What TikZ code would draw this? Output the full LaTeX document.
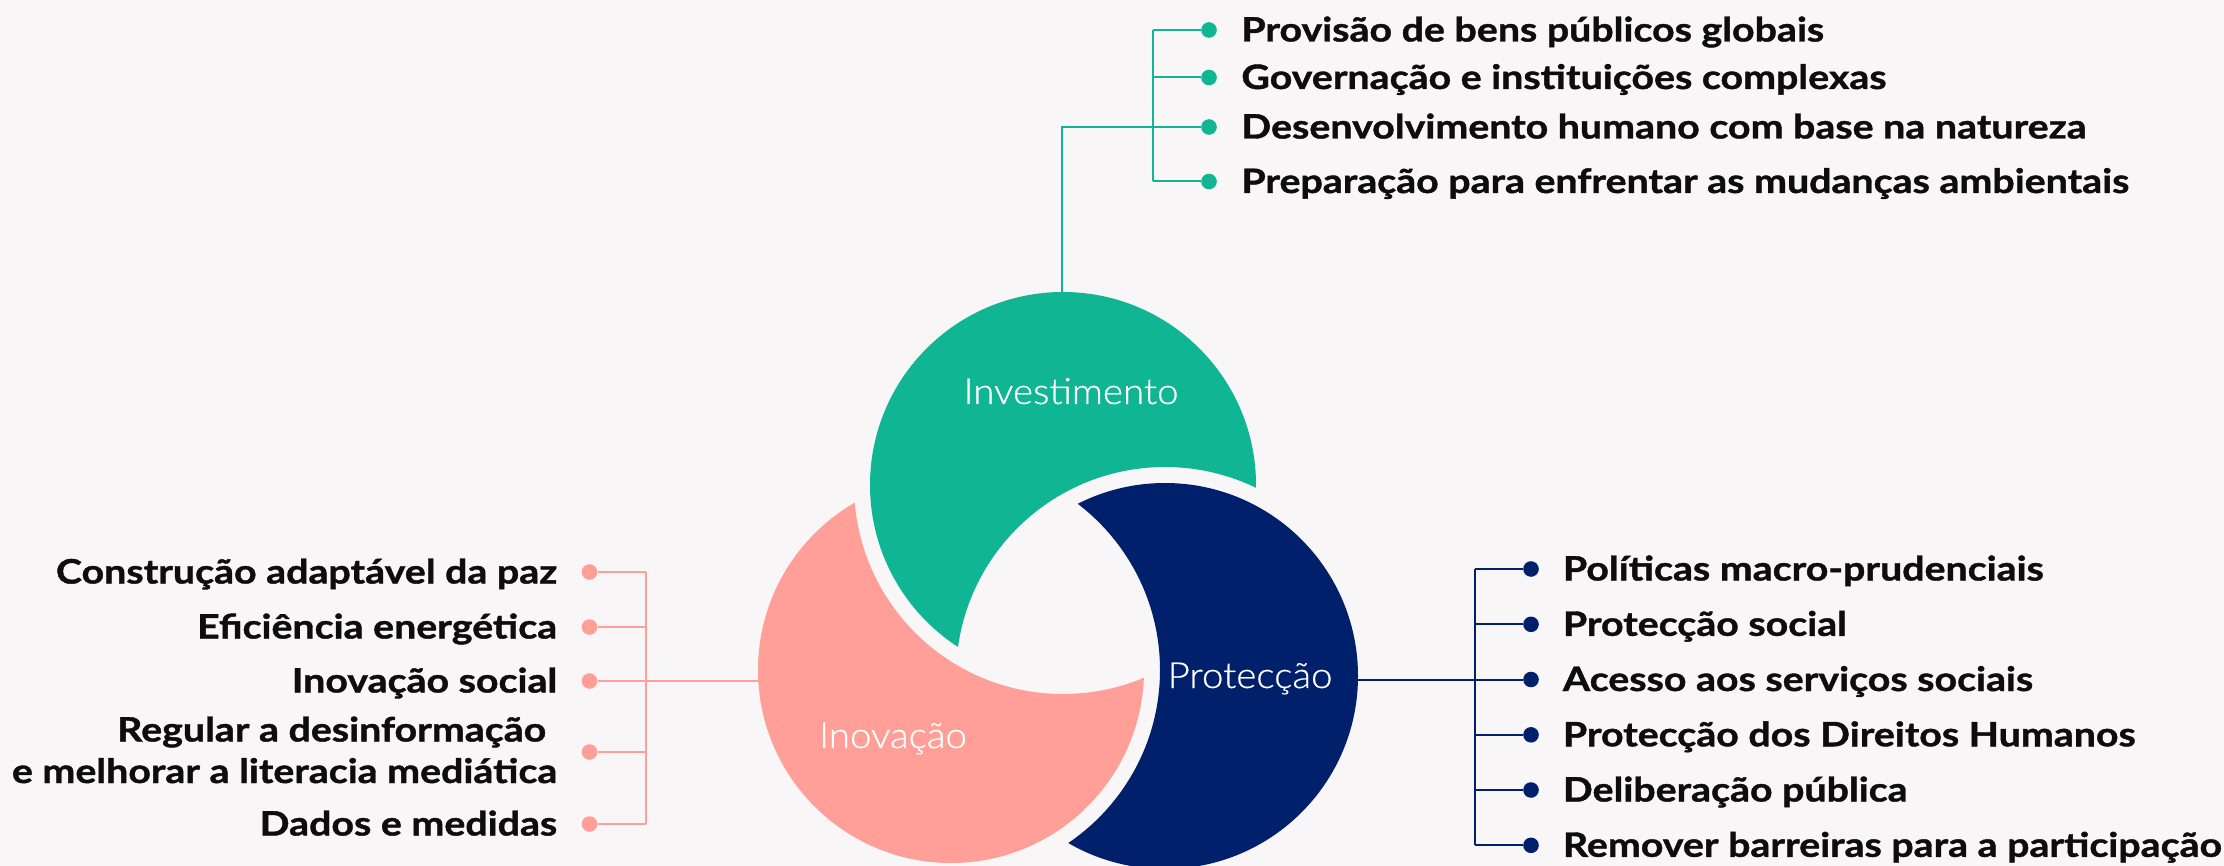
\documentclass[tikz,border=0pt]{standalone}
\usepackage{fontspec}
\newfontfamily\listfont{Lato}[FakeStretch=1.17, BoldFeatures={FakeBold=1.2}]
\newfontfamily\labelfont{Lato}[UprightFont={* Light}, FakeStretch=1.07, FakeBold=0.5]
\definecolor{bg}{HTML}{F8F6F7}
\definecolor{cgreen}{HTML}{10B593}
\definecolor{cnavy}{HTML}{00206C}
\definecolor{cpink}{HTML}{FF9F97}
\definecolor{ink}{HTML}{0D0D0D}
\begin{document}
\begin{tikzpicture}[x=0.5pt,y=-0.5pt,
  item/.style={font=\listfont\bfseries\fontsize{16.8pt}{20pt}\selectfont, text=ink, inner sep=0pt},
  lbl/.style={font=\labelfont\fontsize{18pt}{22pt}\selectfont, text=white, inner sep=0pt, anchor=base},
  dotg/.style={circle, fill=cgreen, inner sep=0pt, minimum size=7.8pt},
  dotn/.style={circle, fill=cnavy, inner sep=0pt, minimum size=7.8pt},
  dotp/.style={circle, fill=cpink, inner sep=0pt, minimum size=7.8pt},
  link/.style={line width=1pt}
]
\fill[bg] (0,0) rectangle (2224,866);
\useasboundingbox (0,0) rectangle (2224,866);

% circle centres
\coordinate (G) at (1063,485);
\coordinate (P) at (951,670);
\coordinate (N) at (1165,676);

% Investimento: green circle cut by enlarged navy circle
\begin{scope}
  \clip (G) circle[radius=193];
  \fill[cgreen, even odd rule] (-20,-20) rectangle (2250,900) (N) circle[radius=209];
\end{scope}
% Proteccao: navy circle cut by enlarged pink circle
\begin{scope}
  \clip (N) circle[radius=193];
  \fill[cnavy, even odd rule] (-20,-20) rectangle (2250,900) (P) circle[radius=209];
\end{scope}
% Inovacao: pink circle cut by enlarged green circle
\begin{scope}
  \clip (P) circle[radius=193];
  \fill[cpink, even odd rule] (-20,-20) rectangle (2250,900) (G) circle[radius=209];
\end{scope}

\node[lbl] (labI) at (1071,404) {Investimento};
\node[lbl] (labP) at (1250,688) {Protecção};
\node[lbl] (labN) at (893,748) {Inovação};

% ---------- top list (green)
\coordinate (gtop) at (1062,292);
\node[dotg] (t1) at (1209,30) {};
\node[dotg] (t2) at (1209,77.5) {};
\node[dotg] (t3) at (1209,127) {};
\node[dotg] (t4) at (1209,181.5) {};
\coordinate (tt1) at (1153,30);
\coordinate (tt2) at (1153,77.5);
\coordinate (tt3) at (1153,127);
\coordinate (tt4) at (1153,181.5);
\draw[cgreen, link] (tt1) -- (tt4);
\draw[cgreen, link] (tt1) -- (t1);
\draw[cgreen, link] (tt2) -- (t2);
\draw[cgreen, link] (tt4) -- (t4);
\draw[cgreen, link] (gtop) |- (t3);
\node[item, anchor=base west] (x1) at (1241,41.5) {Provisão de bens públicos globais};
\node[item, anchor=base west] (x2) at (1241,89) {Governação e instituições complexas};
\node[item, anchor=base west] (x3) at (1241,138.5) {Desenvolvimento humano com base na natureza};
\node[item, anchor=base west] (x4) at (1241,193) {Preparação para enfrentar as mudanças ambientais};

% ---------- right list (navy)
\coordinate (nedge) at (1358,679.5);
\node[dotn] (r1) at (1531,569) {};
\node[dotn] (r2) at (1531,624.3) {};
\node[dotn] (r3) at (1531,679.5) {};
\node[dotn] (r4) at (1531,734.8) {};
\node[dotn] (r5) at (1531,790) {};
\node[dotn] (r6) at (1531,845.3) {};
\coordinate (rt1) at (1475,569);
\coordinate (rt2) at (1475,624.3);
\coordinate (rt4) at (1475,734.8);
\coordinate (rt5) at (1475,790);
\coordinate (rt6) at (1475,845.3);
\draw[cnavy, link] (rt1) -- (rt6);
\draw[cnavy, link] (rt1) -- (r1);
\draw[cnavy, link] (rt2) -- (r2);
\draw[cnavy, link] (nedge) -- (r3);
\draw[cnavy, link] (rt4) -- (r4);
\draw[cnavy, link] (rt5) -- (r5);
\draw[cnavy, link] (rt6) -- (r6);
\node[item, anchor=base west] (y1) at (1562.5,580.5) {Políticas macro-prudenciais};
\node[item, anchor=base west] (y2) at (1562.5,635.8) {Protecção social};
\node[item, anchor=base west] (y3) at (1562.5,691) {Acesso aos serviços sociais};
\node[item, anchor=base west] (y4) at (1562.5,746.3) {Protecção dos Direitos Humanos};
\node[item, anchor=base west] (y5) at (1562.5,801.5) {Deliberação pública};
\node[item, anchor=base west] (y6) at (1562.5,856.8) {Remover barreiras para a participação};

% ---------- left list (pink)
\coordinate (pedge) at (758.5,681);
\node[dotp] (l1) at (589.5,572) {};
\node[dotp] (l2) at (589.5,627) {};
\node[dotp] (l3) at (589.5,681) {};
\node[dotp] (l4) at (589.5,752) {};
\node[dotp] (l5) at (589.5,824) {};
\coordinate (lt1) at (645.5,572);
\coordinate (lt2) at (645.5,627);
\coordinate (lt4) at (645.5,752);
\coordinate (lt5) at (645.5,824);
\draw[cpink, link] (lt1) -- (lt5);
\draw[cpink, link] (lt1) -- (l1);
\draw[cpink, link] (lt2) -- (l2);
\draw[cpink, link] (pedge) -- (l3);
\draw[cpink, link] (lt4) -- (l4);
\draw[cpink, link] (lt5) -- (l5);
\node[item, anchor=base east] (z1) at (557.5,583.5) {Construção adaptável da paz};
\node[item, anchor=base east] (z2) at (557.5,638.5) {Eficiência energética};
\node[item, anchor=base east] (z3) at (557.5,692.5) {Inovação social};
\node[item, anchor=base east] (z4a) at (546.5,741.5) {Regular a desinformação};
\node[item, anchor=base east] (z4b) at (557.5,783) {e melhorar a literacia mediática};
\node[item, anchor=base east] (z5) at (557.5,835.5) {Dados e medidas};
\end{tikzpicture}
\end{document}
